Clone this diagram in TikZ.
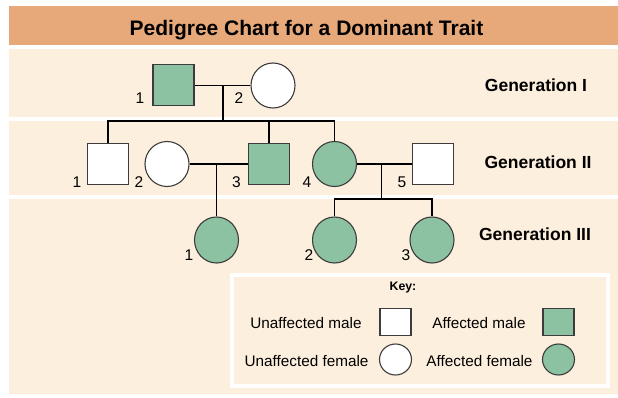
\documentclass[tikz,border=0pt]{standalone}
\usepackage{fontspec}
\setmainfont{Liberation Sans}
\usetikzlibrary{shapes.geometric}
\definecolor{barorange}{RGB}{231,169,122}
\definecolor{peach}{RGB}{253,239,222}
\definecolor{affgreen}{RGB}{140,194,162}
\definecolor{edgegray}{RGB}{60,60,60}
\begin{document}
\begin{tikzpicture}[x=1pt,y=-1pt,
  male/.style={rectangle, draw=edgegray, line width=1.1pt, minimum width=41pt, minimum height=41pt, inner sep=0pt},
  female/.style={ellipse, draw=edgegray, line width=1.1pt, minimum width=44pt, minimum height=45pt, inner sep=0pt},
  keymale/.style={rectangle, draw=edgegray, line width=1.1pt, minimum width=31pt, minimum height=27pt, inner sep=0pt},
  keyfemale/.style={ellipse, draw=edgegray, line width=1.1pt, minimum width=32pt, minimum height=31pt, inner sep=0pt},
  unaff/.style={fill=white},
  aff/.style={fill=affgreen},
  link/.style={line width=1.8pt, black},
  num/.style={font=\fontsize{15.5}{15.5}\selectfont, anchor=base, inner sep=0pt},
  gen/.style={font=\bfseries\fontsize{17.5}{17.5}\selectfont, anchor=base, inner sep=0pt},
  keytxt/.style={font=\fontsize{15.3}{15.3}\selectfont, anchor=base, inner sep=0pt},
  band/.style={fill=peach}
]
\useasboundingbox (0,0) rectangle (618,398);
\fill[white] (0,0) rectangle (618,398);
% background bands
\fill[barorange] (9,6) rectangle (618,45);
\fill[band] (9,49) rectangle (618,117);
\fill[band] (9,121) rectangle (618,195);
\fill[band] (9,199) rectangle (618,394);
\node[font=\bfseries\fontsize{21}{21}\selectfont, anchor=base, inner sep=0pt] (title) at (306.5,36) {Pedigree Chart for a Dominant Trait};

% Generation labels
\node[gen] (g1) at (536,91.7) {Generation I};
\node[gen] (g2) at (538,169) {Generation II};
\node[gen] (g3) at (535,240) {Generation III};

% Generation I
\node[male, aff] (I1) at (173.5,85) {};
\node[female, unaff] (I2) at (273,85.5) {};
% Generation II
\node[male, unaff] (II1) at (108,164) {};
\node[female, unaff] (II2) at (167,164) {};
\node[male, aff] (II3) at (269,164) {};
\node[female, aff] (II4) at (334.5,164) {};
\node[male, unaff] (II5) at (433,164) {};
% Generation III
\node[female, aff, minimum height=46pt] (III1) at (216.5,240) {};
\node[female, aff, minimum height=46pt] (III2) at (334.5,240) {};
\node[female, aff, minimum height=46pt] (III3) at (432,240) {};

% connectors
\coordinate (m1) at (223,85.5);
\coordinate (s1) at (223,121);
\draw[link] (I1.east |- m1) -- (I2.west |- m1);
\draw[link] (m1) -- (s1);
\draw[link] (II1.north) -- (II1.north |- s1) -- (II4.north |- s1) -- (II4.north);
\draw[link] (II3.north) -- (II3.north |- s1);

\coordinate (m2) at (216.5,164);
\draw[link] (II2.east) -- (II3.west);
\draw[link] (m2) -- (III1.north);

\coordinate (m3) at (381.5,164);
\coordinate (s3) at (381.5,199);
\draw[link] (II4.east) -- (II5.west);
\draw[link] (m3) -- (s3);
\draw[link] (III2.north) -- (III2.north |- s3) -- (III3.north |- s3) -- (III3.north);

% numbers
\node[num] (nI1) at (140,104) {1};
\node[num] (nI2) at (239,104) {2};
\node[num] (nII1) at (77,188) {1};
\node[num] (nII2) at (139,188) {2};
\node[num] (nII3) at (236.5,188) {3};
\node[num] (nII4) at (307,188) {4};
\node[num] (nII5) at (402,188) {5};
\node[num] (nIII1) at (189,260) {1};
\node[num] (nIII2) at (309,260) {2};
\node[num] (nIII3) at (406,260) {3};

% key
\node[draw=white, line width=4pt, minimum width=376pt, minimum height=111pt, inner sep=0pt] (keybox) at (420,330.5) {};
\node[font=\bfseries\fontsize{12.3}{12.3}\selectfont, anchor=base, inner sep=0pt] (keyt) at (403,290) {Key:};
\node[keytxt] (kum) at (306,328) {Unaffected male};
\node[keymale, unaff] (kums) at (395.5,322) {};
\node[keytxt] (kam) at (479,328) {Affected male};
\node[keymale, aff] (kams) at (558.5,322) {};
\node[keytxt] (kuf) at (306.5,366) {Unaffected female};
\node[keyfemale, unaff] (kufc) at (395.5,359.5) {};
\node[keytxt] (kaf) at (479.5,366) {Affected female};
\node[keyfemale, aff] (kafc) at (558.5,359.5) {};
\end{tikzpicture}
\end{document}
